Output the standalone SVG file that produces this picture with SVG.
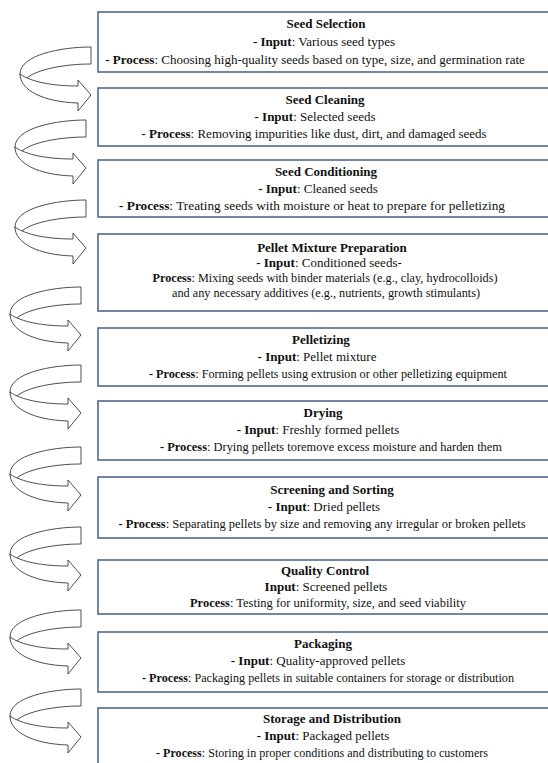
<svg xmlns="http://www.w3.org/2000/svg" xmlns:xlink="http://www.w3.org/1999/xlink" width="548" height="763" viewBox="0 0 548 763">
<style>
.box{fill:#fff;stroke:#52688b;stroke-width:1.6}
.t{font-family:"Liberation Serif","Times New Roman",serif;font-size:13px;fill:#111;text-anchor:middle}
.b{font-weight:bold}
.arr{fill:#fff;stroke:#3a3a3a;stroke-width:0.9;stroke-linejoin:round}
</style>
<defs>
<g id="curvedArrow">
<path class="arr" d="M0,0 C-30,0 -71,8 -71,27 C-71,29 -69,31 -66,33 C-58,23 -28,17 0,17 Z"/>
<path class="arr" d="M-71,27 C-71,43 -48,55 -13,56 L-13,64 L0,48 L-13,33 L-13,39 C-38,39 -60,35 -71,27 Z"/>
</g>
</defs>
<rect width="548" height="763" fill="#fff"/>
<g id="connectors">
<use xlink:href="#curvedArrow" transform="translate(91,47)"/>
<use xlink:href="#curvedArrow" transform="translate(86,120)"/>
<use xlink:href="#curvedArrow" transform="translate(86,200)"/>
<use xlink:href="#curvedArrow" transform="translate(81,287)"/>
<use xlink:href="#curvedArrow" transform="translate(81,365)"/>
<use xlink:href="#curvedArrow" transform="translate(81,447)"/>
<use xlink:href="#curvedArrow" transform="translate(81,527)"/>
<use xlink:href="#curvedArrow" transform="translate(81,610)"/>
<use xlink:href="#curvedArrow" transform="translate(81,689)"/>
</g>
<g id="seed-selection">
<rect class="box" x="98" y="12" width="470" height="60"/>
<text class="t b" x="326" y="28">Seed Selection</text>
<text class="t" x="324" y="46"><tspan class="b">- Input</tspan>: Various seed types</text>
<text class="t" x="315" y="64"><tspan class="b">- Process</tspan>: Choosing  high-quality seeds based on type, size, and germination rate</text>
</g>
<g id="seed-cleaning">
<rect class="box" x="98" y="88" width="470" height="58"/>
<text class="t b" x="325" y="104">Seed Cleaning</text>
<text class="t" x="315" y="121"><tspan class="b">- Input</tspan>: Selected seeds</text>
<text class="t" x="314" y="138"><tspan class="b">- Process</tspan>: Removing impurities like dust, dirt,  and damaged seeds</text>
</g>
<g id="seed-conditioning">
<rect class="box" x="98" y="160" width="470" height="57"/>
<text class="t b" x="326" y="176">Seed Conditioning</text>
<text class="t" x="318" y="193"><tspan class="b">- Input</tspan>:  Cleaned seeds</text>
<text class="t" x="312" y="210" textLength="386" lengthAdjust="spacingAndGlyphs"><tspan class="b">- Process</tspan>: Treating seeds  with moisture or heat to prepare for pelletizing</text>
</g>
<g id="pellet-mixture-preparation">
<rect class="box" x="98" y="234" width="470" height="77"/>
<text class="t b" x="332" y="252">Pellet Mixture Preparation</text>
<text class="t" x="329" y="267"><tspan class="b">- Input</tspan>: Conditioned  seeds-</text>
<text class="t" x="325" y="282" textLength="345" lengthAdjust="spacingAndGlyphs"><tspan class="b">Process</tspan>: Mixing seeds with  binder materials (e.g., clay, hydrocolloids)</text>
<text class="t" x="326" y="297" textLength="308" lengthAdjust="spacingAndGlyphs">and any necessary additives (e.g., nutrients, growth stimulants)</text>
</g>
<g id="pelletizing">
<rect class="box" x="98" y="328" width="470" height="58"/>
<text class="t b" x="321" y="344">Pelletizing</text>
<text class="t" x="317" y="361"><tspan class="b">- Input</tspan>: Pellet mixture</text>
<text class="t" x="328" y="378" textLength="358" lengthAdjust="spacingAndGlyphs"><tspan class="b">- Process</tspan>: Forming pellets using extrusion or other pelletizing  equipment</text>
</g>
<g id="drying">
<rect class="box" x="98" y="401" width="470" height="59"/>
<text class="t b" x="323" y="417">Drying</text>
<text class="t" x="318" y="434"><tspan class="b">- Input</tspan>: Freshly  formed pellets</text>
<text class="t" x="331" y="451" textLength="342" lengthAdjust="spacingAndGlyphs"><tspan class="b">- Process</tspan>: Drying  pellets toremove  excess moisture and harden them</text>
</g>
<g id="screening-and-sorting">
<rect class="box" x="98" y="477" width="470" height="61"/>
<text class="t b" x="332" y="494">Screening and Sorting</text>
<text class="t" x="324" y="511"><tspan class="b">- Input</tspan>:  Dried pellets</text>
<text class="t" x="322" y="528" textLength="407" lengthAdjust="spacingAndGlyphs"><tspan class="b">- Process</tspan>:  Separating pellets by size and removing any irregular or broken pellets</text>
</g>
<g id="quality-control">
<rect class="box" x="98" y="560" width="470" height="54"/>
<text class="t b" x="325" y="575">Quality Control</text>
<text class="t" x="326" y="591"><tspan class="b">Input</tspan>: Screened pellets</text>
<text class="t" x="328" y="607" textLength="276" lengthAdjust="spacingAndGlyphs"><tspan class="b">Process</tspan>: Testing for uniformity, size, and seed viability</text>
</g>
<g id="packaging">
<rect class="box" x="98" y="632" width="470" height="60"/>
<text class="t b" x="323" y="648">Packaging</text>
<text class="t" x="318" y="665"><tspan class="b">- Input</tspan>: Quality-approved pellets</text>
<text class="t" x="328" y="682" textLength="372" lengthAdjust="spacingAndGlyphs"><tspan class="b">- Process</tspan>:  Packaging pellets in suitable containers  for storage or distribution</text>
</g>
<g id="storage-and-distribution">
<rect class="box" x="98" y="708" width="470" height="70"/>
<text class="t b" x="332" y="723">Storage and Distribution</text>
<text class="t" x="323" y="740"><tspan class="b">- Input</tspan>: Packaged  pellets</text>
<text class="t" x="322" y="757" textLength="332" lengthAdjust="spacingAndGlyphs"><tspan class="b">- Process</tspan>: Storing in proper conditions and distributing  to customers</text>
</g>
</svg>
